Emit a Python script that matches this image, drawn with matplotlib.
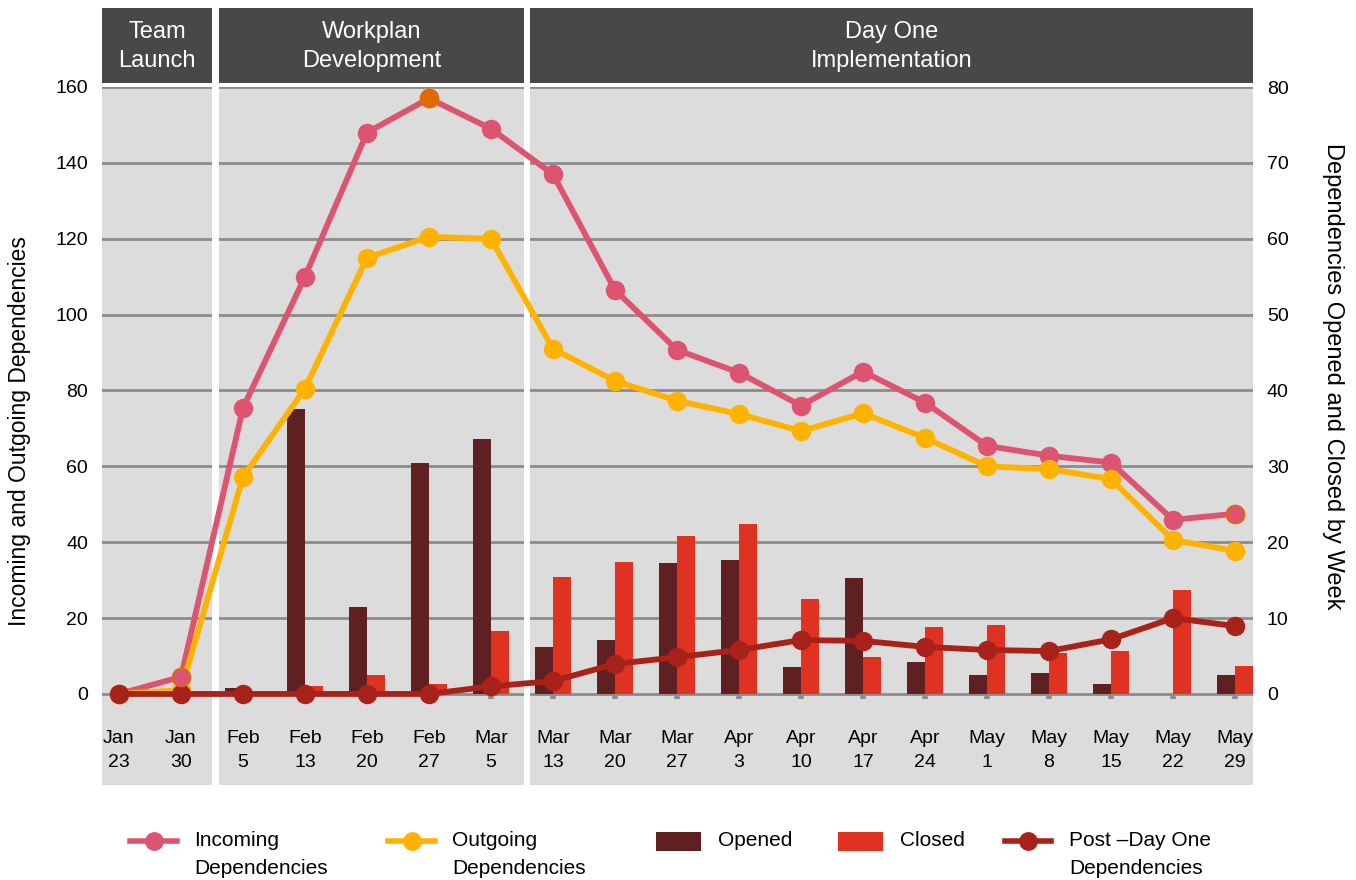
import matplotlib.pyplot as plt
import matplotlib as mpl
from matplotlib.lines import Line2D
from matplotlib.patches import Rectangle
import numpy as np

# data
weeks = ['Jan\n23', 'Jan\n30', 'Feb\n5', 'Feb\n13', 'Feb\n20', 'Feb\n27', 'Mar\n5',
         'Mar\n13', 'Mar\n20', 'Mar\n27', 'Apr\n3', 'Apr\n10', 'Apr\n17', 'Apr\n24',
         'May\n1', 'May\n8', 'May\n15', 'May\n22', 'May\n29']
incoming = [0, 4.5, 75.4, 110, 148, 157, 149, 137, 106.5, 90.7, 84.7, 76, 85, 76.8,
            65.4, 62.8, 61, 45.9, 47.5]
outgoing = [0, 1, 57.2, 80.5, 115, 120.5, 120, 91, 82.5, 77.3, 73.8, 69.3, 74, 67.5,
            60, 59.3, 56.6, 40.6, 37.7]
post_day_one = [0, 0, 0, 0, 0, 0, 2, 3.4, 7.9, 9.7, 11.6, 14.2, 14.0, 12.4,
                11.6, 11.3, 14.4, 20, 17.9]
opened = [0, 0, 0.8, 37.5, 11.5, 30.4, 33.6, 6.2, 7.1, 17.3, 17.7, 3.6, 15.3, 4.2,
          2.5, 2.8, 1.3, 0, 2.5]
closed = [0, 0, 0, 1, 2.5, 1.3, 8.3, 15.4, 17.4, 20.8, 22.4, 12.5, 4.9, 8.8,
          9.1, 5.4, 5.7, 13.7, 3.7]
phases = ['Team\nLaunch', 'Workplan\nDevelopment', 'Day One\nImplementation']
phase_bounds = [(-0.274, 1.50), (1.61, 6.53), (6.63, 18.29)]

# colours
c_in = '#DD5470'
c_out = '#FFB300'
c_open = '#5E2020'
c_close = '#E03220'
c_post = '#A8221A'
c_bg = '#DCDCDC'
c_head = '#484848'
c_grid = '#8C8C8C'

mpl.rcParams['font.family'] = ['Liberation Sans', 'DejaVu Sans']
W, H = 1356, 880

fig = plt.figure(figsize=(W/100, H/100), dpi=100)
ax = fig.add_axes([102/W, 95/H, 1151/W, 698/H])
x = np.arange(len(weeks))

# bars on the right scale
ax.set_facecolor(c_bg)
ax.set_xlim(-0.274, 18.29)
ax.set_ylim(-12, 80)
ax.set_yticks(np.arange(0, 81, 10))
ax.grid(axis='y', color=c_grid, lw=2)
ax.set_axisbelow(True)
bw = 0.29
ax.bar(x - bw/2, opened, width=bw, color=c_open, zorder=2)
ax.bar(x + bw/2, closed, width=bw, color=c_close, zorder=2)
ax.vlines(x, -0.6, 0, color=c_grid, lw=4, zorder=1)
ax.set_xticks([])
for s in ax.spines.values():
    s.set_visible(False)

# white gaps between phases
for a, b in zip(phase_bounds[:-1], phase_bounds[1:]):
    ax.axvspan(a[1], b[0], color='white', lw=0, zorder=1.5)

# phase headers
trans = ax.get_xaxis_transform()
for (a, b), name in zip(phase_bounds, phases):
    ax.add_patch(Rectangle((a, 1.0057), b - a, 0.107, transform=trans,
                           color=c_head, clip_on=False, lw=0))
    ax.text((a + b) / 2, 1.058, name, transform=trans, ha='center', va='center',
            color='white', fontsize=17, linespacing=1.38)

# week labels
for i, w in enumerate(weeks):
    ax.text(i, -7.4, w, ha='center', va='center', fontsize=14, linespacing=1.55)

# lines on the left scale
ax2 = ax.twinx()
ax.yaxis.tick_right()
ax.tick_params(axis='y', length=0, labelsize=14, pad=10)
ax2.set_ylim(-24, 160)
ax2.set_yticks(np.arange(0, 161, 20))
ax2.yaxis.tick_left()
for s in ax2.spines.values():
    s.set_visible(False)
ax2.tick_params(axis='y', length=0, labelsize=14, pad=10)

lw, ms = 4.2, 13
ax2.plot(x, incoming, color=c_in, lw=lw, marker='o', ms=ms, zorder=3)
ax2.plot(x, outgoing, color=c_out, lw=lw, marker='o', ms=ms, zorder=4)
ax2.plot(x, post_day_one, color=c_post, lw=lw, marker='o', ms=ms, zorder=5)
ax2.plot(x[5], incoming[5], 'o', color='#E06A00', ms=ms, zorder=6)
ax2.plot(x[[1, 18]], [incoming[1], incoming[18]], 'o', mfc=c_in, mec='#E06A00',
         mew=1, ms=ms, zorder=6)

# axis titles
fig.text(20/W, 1 - 431/H, 'Incoming and Outgoing Dependencies', rotation=90,
         ha='center', va='center', fontsize=16.5)
fig.text(1333/W, 1 - 376/H, 'Dependencies Opened and Closed by Week', rotation=-90,
         ha='center', va='center', fontsize=17)

# legend, built by hand
ly = 1 - 841/H
entries = [('line', c_in, 130, 177, 194, 'Incoming\nDependencies'),
           ('line', c_out, 388, 435, 452, 'Outgoing\nDependencies'),
           ('patch', c_open, 656, 701, 718, 'Opened'),
           ('patch', c_close, 838, 883, 900, 'Closed'),
           ('line', c_post, 1005, 1051, 1069, 'Post \u2013Day One\nDependencies')]
for kind, col, x0, x1, tx, lab in entries:
    if kind == 'line':
        fig.add_artist(Line2D([x0/W, x1/W], [ly, ly], color=col, lw=4,
                              transform=fig.transFigure))
        fig.add_artist(Line2D([(x0 + x1)/2/W], [ly], marker='o', ms=12.5, color=col,
                              transform=fig.transFigure))
    else:
        fig.add_artist(Rectangle((x0/W, 1 - 851/H), (x1 - x0)/W, 19/H, color=col,
                                 lw=0, transform=fig.transFigure))
    fig.text(tx/W, 1 - 831/H, lab, ha='left', va='top', fontsize=15, linespacing=1.62)

fig.savefig('out.png', dpi=100)
